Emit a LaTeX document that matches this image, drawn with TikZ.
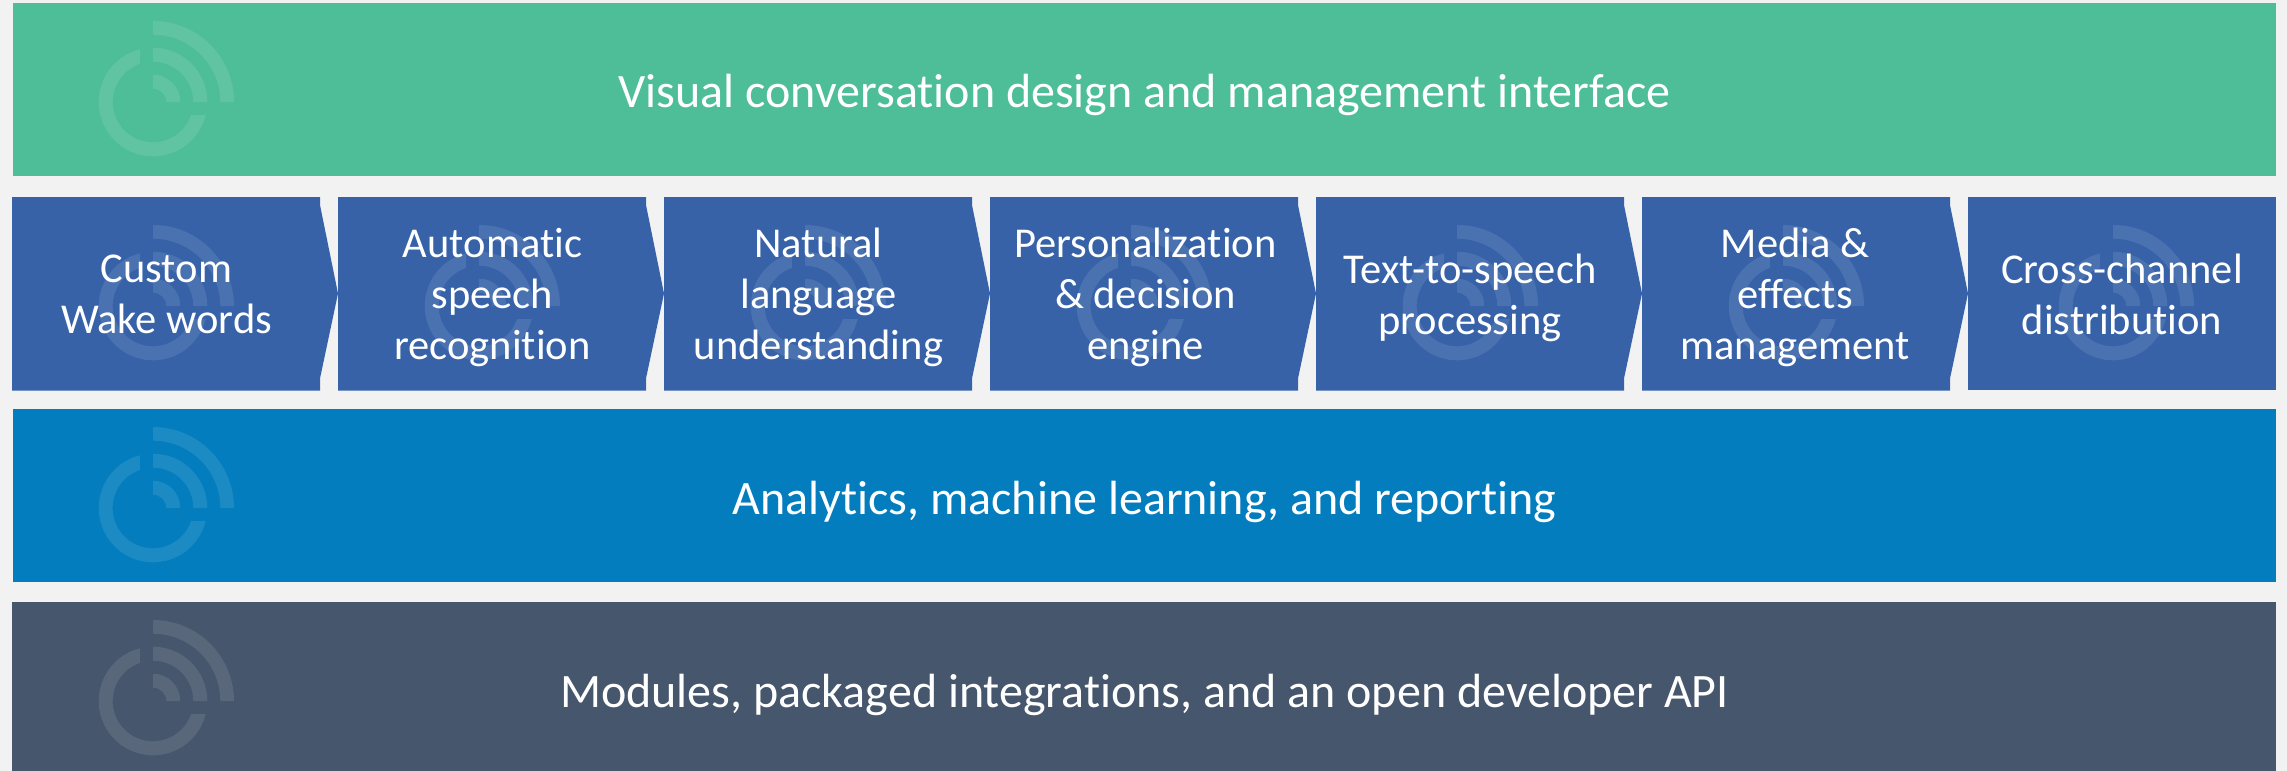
\documentclass[tikz,border=0pt]{standalone}
\usepackage{fontspec}
\setmainfont[Ligatures=NoCommon]{Carlito}
\definecolor{pagebg}{HTML}{F2F2F2}
\definecolor{greenbar}{HTML}{4EBE99}
\definecolor{bluechev}{HTML}{3762A8}
\definecolor{tealbar}{HTML}{037DBD}
\definecolor{darkbar}{HTML}{46566C}
\newcommand{\ls}{\rule[-13pt]{0pt}{37pt}}
\tikzset{
  x=1pt,y=1pt,
  label text/.style={text=white,align=center,inner sep=0pt,font=\fontsize{42.5}{51}\selectfont},
  bar text/.style={text=white,align=center,inner sep=0pt,font=\fontsize{48}{54}\selectfont},
  logomark/.pic={
    \fill[white,fill opacity=0.1]
      (0,81) arc[start angle=90,end angle=0,radius=81] -- (67.3,0) arc[start angle=0,end angle=90,radius=67.3] -- cycle
      (0,54.3) arc[start angle=90,end angle=0,radius=54.3] -- (40.3,0) arc[start angle=0,end angle=90,radius=40.3] -- cycle
      (0,27.3) arc[start angle=90,end angle=0,radius=27.3] -- (13.3,0) arc[start angle=0,end angle=90,radius=13.3] -- cycle
      (-13,52.7) arc[start angle=103.86,end angle=346.14,radius=54.3] -- (38.1,-13) arc[start angle=341.18,end angle=108.82,radius=40.3] -- cycle;
  }
}
\newcommand{\chevronshape}[1]{%
  \fill[bluechev] (#1,-197) -- ++(308,0) -- ++(0,-8) -- ++(18,-88.5) -- ++(-18,-85) -- ++(0,-12) -- ++(-308,0) -- cycle;}
\begin{document}
\begin{tikzpicture}
\useasboundingbox (0,0) rectangle (2287,-771);
\fill[pagebg] (0,0) rectangle (2287,-771);
% bars
\fill[greenbar] (13,-3) rectangle (2276,-176);
\fill[tealbar] (13,-409) rectangle (2276,-582);
\fill[darkbar] (12,-602) rectangle (2276,-771);
% chevrons
\foreach \xl in {12,338,664,990,1316,1642} {\chevronshape{\xl}}
\fill[bluechev] (1968,-197) rectangle (2276,-390);
% logos
\pic at (153,-102) {logomark};
\pic at (153,-508) {logomark};
\pic at (153,-701) {logomark};
\foreach \xc in {153,479,805,1131,1457,1783,2113} {\pic at (\xc,-306) {logomark};}
% labels
\node[bar text] (design) at (1144.5,-97.5) {\ls Visual conversation design and management interface};
\node[bar text] (analytics) at (1144.5,-504.5) {\ls Analytics, machine learning, and reporting};
\node[bar text] (modules) at (1144.5,-697.5) {\ls Modules, packaged integrations, and an open developer API};
\node[label text] (wake) at (166.5,-300.5) {\ls Custom\\\ls Wake words};
\node[label text] (asr) at (492.5,-300.5) {\ls Automatic\\\ls speech\\\ls recognition};
\node[label text] (nlu) at (818.5,-300.5) {\ls Natural\\\ls language\\\ls understanding};
\node[label text] (engine) at (1145.5,-300.5) {\ls Personalization\\\ls \& decision\\\ls engine};
\node[label text] (tts) at (1470,-300.5) {\ls Text-to-speech\\\ls processing};
\node[label text] (media) at (1795,-300.5) {\ls Media \&\\\ls effects\\\ls management};
\node[label text] (dist) at (2122,-300.5) {\ls Cross-channel\\\ls distribution};
\end{tikzpicture}
\end{document}
